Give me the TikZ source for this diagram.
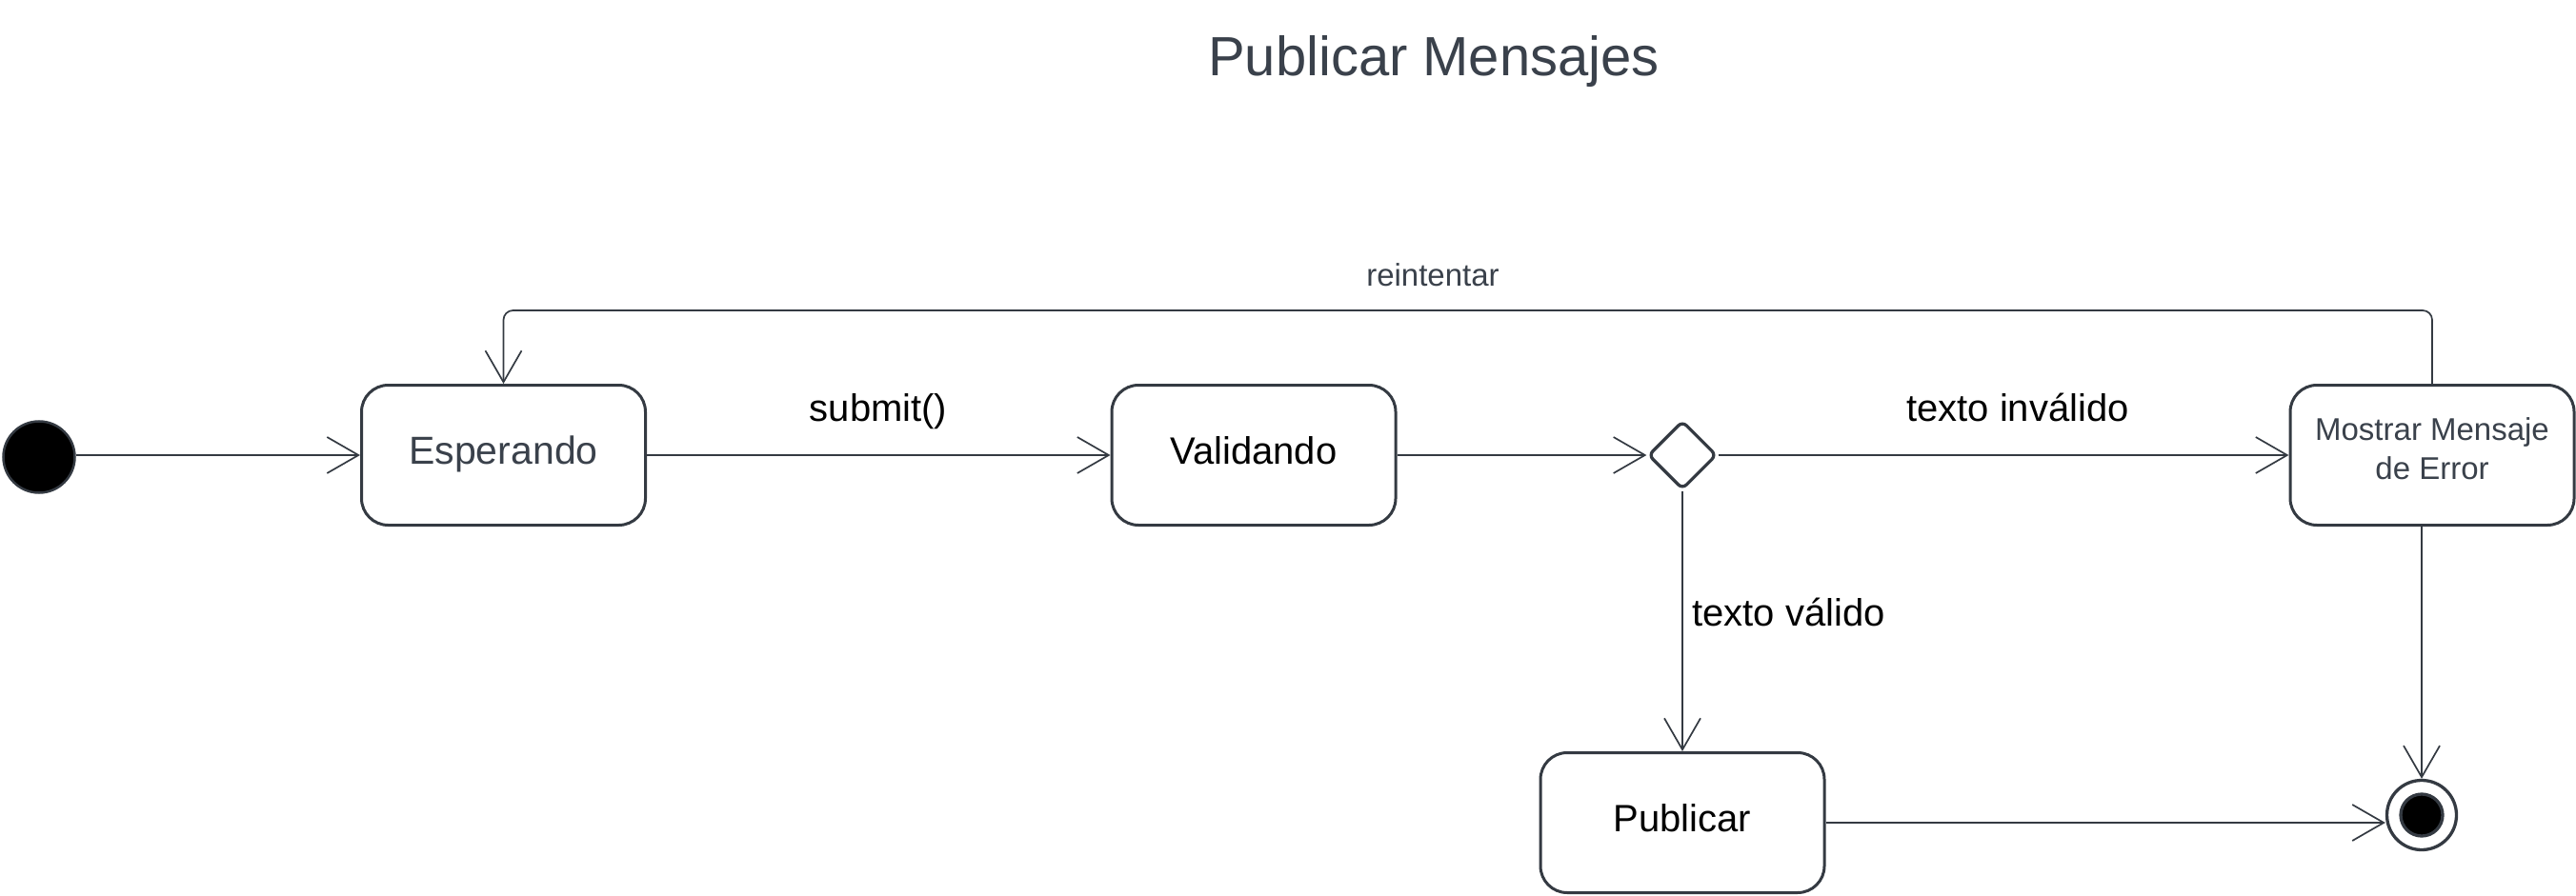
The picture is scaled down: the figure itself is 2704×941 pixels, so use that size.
\documentclass[tikz,border=0pt]{standalone}
\usepackage{fontspec}
\setmainfont{Liberation Sans}
\usetikzlibrary{arrows.meta, shapes.geometric}
\definecolor{ln}{RGB}{52,58,66}
\definecolor{tx}{RGB}{58,65,75}
\begin{document}
\begin{tikzpicture}[x=1pt,y=-1pt,
  statebox/.style={draw=ln, line width=3pt, rounded corners=28pt, minimum width=298pt, minimum height=147pt, inner sep=0pt},
  state/.style={statebox, font=\fontsize{40}{48}\selectfont, text height=28pt, text depth=10pt},
  conn/.style={draw=ln, line width=1.7pt, -{Straight Barb[length=33pt,width=38pt]}},
  lbl/.style={font=\fontsize{40}{48}\selectfont, inner sep=0pt, anchor=base},
  small/.style={font=\fontsize{33}{40.5}\selectfont, text=tx},
]
\useasboundingbox (0,0) rectangle (2704,941);

\node[font=\fontsize{58}{68}\selectfont, text=tx, anchor=base, inner sep=0pt] (title) at (1505,80) {Publicar Mensajes};

\node[circle, draw=ln, fill=black, line width=2.5pt, minimum size=75pt, inner sep=0pt] (init) at (41,480) {};
\node[state, text=tx, font=\fontsize{41}{48}\selectfont] (esp) at (528.5,478) {Esperando};
\node[state] (val) at (1316,478) {Validando};
\node[diamond, draw=ln, line width=3.3pt, rounded corners=6pt, minimum size=72pt, inner sep=0pt, fill=white] (dec) at (1766,478) {};
\node[statebox, align=center, small, text depth=13.5pt] (err) at (2553,478) {Mostrar Mensaje\\de Error};
\node[state] (pub) at (1766,864) {Publicar};
\node[circle, draw=ln, fill=white, line width=3.3pt, minimum size=73pt, inner sep=0pt] (fin) at (2542,856) {};
\node[circle, draw=ln, fill=black, line width=3.3pt, minimum size=44pt, inner sep=0pt] (finin) at (fin.center) {};

\coordinate (top) at (1500,326);

\draw[conn] (esp.west -| init.east) -- (esp.west);
\draw[conn] (esp.east) -- (val.west);
\draw[conn] (val.east) -- (dec.west);
\draw[conn] (dec.east) -- (err.west);
\draw[conn] (dec.south) -- (pub.north);
\draw[conn, rounded corners=10pt] (err.north) |- (top) -| (esp.north);
\draw[conn] (fin.north |- err.south) -- (fin.north);
\draw[conn] (pub.east) -- (pub.east -| fin.west);

\node[lbl] (l1) at (922,442) {submit()};
\node[lbl] (l2) at (2118,442) {texto inválido};
\node[lbl, anchor=base west] (l3) at (1776,657) {texto válido};
\node[small, anchor=base, inner sep=0pt] (l4) at (1504,301) {reintentar};
\end{tikzpicture}
\end{document}
